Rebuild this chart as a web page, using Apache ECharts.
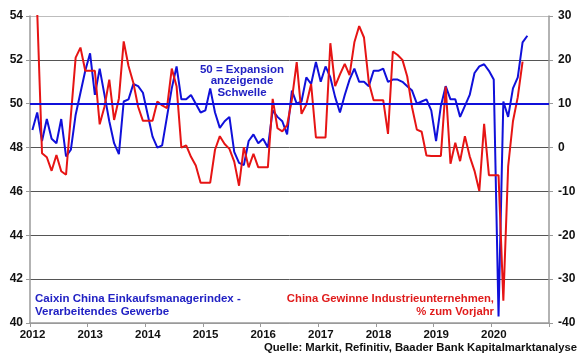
<!DOCTYPE html>
<html><head><meta charset="utf-8">
<script src="https://cdn.jsdelivr.net/npm/echarts@6/dist/echarts.min.js"></script>
<style>html,body{margin:0;padding:0;background:#fff}#c{width:580px;height:359px}</style>
</head><body><div id="c"></div>
<script>
// ---- data (monthly, starting January 2012) ----
const startYear = 2012;
const pmiCaixin = [
  48.8, 49.6, 48.3, 49.3, 48.4, 48.2, 49.3, 47.6, 47.9, 49.5, 50.5, 51.5,
  52.3, 50.4, 51.6, 50.4, 49.2, 48.2, 47.7, 50.1, 50.2, 50.9, 50.8, 50.5,
  49.5, 48.5, 48.0, 48.1, 49.4, 50.7, 51.7, 50.2, 50.2, 50.4, 50.0, 49.6,
  49.7, 50.7, 49.6, 48.9, 49.2, 49.4, 47.8, 47.3, 47.2, 48.3, 48.6, 48.2,
  48.4, 48.0, 49.7, 49.4, 49.2, 48.6, 50.6, 50.0, 50.1, 51.2, 50.9, 51.9,
  51.0, 51.7, 51.2, 50.3, 49.6, 50.4, 51.1, 51.6, 51.0, 51.0, 50.8, 51.5,
  51.5, 51.6, 51.0, 51.1, 51.1, 51.0, 50.8, 50.6, 50.0, 50.1, 50.2, 49.7,
  48.3, 49.9, 50.8, 50.2, 50.2, 49.4, 49.9, 50.4, 51.4, 51.7, 51.8, 51.5,
  51.1, 40.3, 50.1, 49.4, 50.7, 51.2, 52.8, 53.1
];
const industrialProfitsYoY = [
  31.0, 31.0, -1.3, -2.2, -5.3, -1.7, -5.4, -6.2, 7.2, 20.5, 22.8, 17.5,
  17.5, 17.5, 5.3, 9.3, 15.5, 6.3, 11.2, 24.2, 18.6, 14.8, 9.3, 6.1,
  6.1, 6.1, 10.5, 9.6, 9.0, 18.0, 14.0, 0.0, 0.5, -2.1, -4.1, -8.0,
  -8.0, -8.0, -0.5, 2.6, 0.8, -0.3, -3.2, -8.7, 0.1, -4.5, -1.4, -4.5,
  -4.5, -4.5, 11.1, 4.4, 3.7, 5.1, 11.0, 19.5, 7.7, 9.8, 14.5, 2.3,
  2.3, 2.3, 23.8, 14.0, 16.7, 19.1, 16.5, 24.0, 27.7, 25.1, 14.9, 10.8,
  10.8, 10.8, 3.1, 21.9, 21.1, 20.0, 16.2, 9.2, 4.1, 3.6, -1.8, -1.9,
  -1.9, -1.9, 13.9, -3.7, 1.1, -3.1, 2.6, -2.0, -5.3, -9.9, 5.4, -6.3,
  -6.3, -6.3, -34.9, -4.3, 6.0, 11.5, 19.6
];
const expansionThreshold = 50;
const yearLabels = ['2012','2013','2014','2015','2016','2017','2018','2019','2020'];
const leftAxisTicks = [40, 42, 44, 46, 48, 50, 52, 54];
const rightAxisTicks = [-40, -30, -20, -10, 0, 10, 20, 30];

const pmiLabel = ['Caixin China Einkaufsmanagerindex -', 'Verarbeitendes Gewerbe'];
const profitLabel = ['China Gewinne Industrieunternehmen,', '% zum Vorjahr'];
const thresholdLabel = ['50 = Expansion', 'anzeigende', 'Schwelle'];
const sourceLabel = 'Quelle: Markit, Refinitiv, Baader Bank Kapitalmarktanalyse';

// month index -> position on year scale (centre of month)
const toX = i => startYear + (i + 0.5) / 12;
const pmiData = pmiCaixin.map((v, i) => [toX(i), v]);
const profitData = industrialProfitsYoY.map((v, i) => [toX(i), v]);

const FONT = "'Liberation Sans', Arial, sans-serif";
const BLUE = '#1010da';
const RED = '#e61414';
const BLUE_TXT = '#2222c4';
const RED_TXT = '#e01c1c';

const chart = echarts.init(document.getElementById('c'), null, {renderer: 'canvas'});

function txt(text, x, y, fill, align, size) {
  return {
    type: 'text', x: x, y: y, z: 100,
    style: {text: text, x: 0, y: 0, fill: fill, align: align, verticalAlign: 'middle',
      font: 'bold ' + (size || 11.5) + 'px ' + FONT}
  };
}

const graphics = [];
graphics.push(txt(thresholdLabel[0], 242, 70, BLUE_TXT, 'center'));
graphics.push(txt(thresholdLabel[1], 242, 81.3, BLUE_TXT, 'center'));
graphics.push(txt(thresholdLabel[2], 242, 92.6, BLUE_TXT, 'center'));
graphics.push(txt(pmiLabel[0], 35, 299, BLUE_TXT, 'left'));
graphics.push(txt(pmiLabel[1], 35, 311.5, BLUE_TXT, 'left'));
graphics.push(txt(profitLabel[0], 494, 299, RED_TXT, 'right', 11.3));
graphics.push(txt(profitLabel[1], 494, 311.5, RED_TXT, 'right', 11.3));
graphics.push(txt(sourceLabel, 577, 348, '#111', 'right', 11.3));

const lmin = leftAxisTicks[0], lmax = leftAxisTicks[leftAxisTicks.length - 1];
const rmin = rightAxisTicks[0], rmax = rightAxisTicks[rightAxisTicks.length - 1];

chart.setOption({
  animation: false,
  backgroundColor: '#fff',
  grid: {left: 30, right: 31, top: 16, bottom: 36, containLabel: false},
  xAxis: {
    type: 'value', min: startYear, max: startYear + yearLabels.length, interval: 1,
    axisLine: {show: true, onZero: false, lineStyle: {color: '#9a9a9a', width: 1.5}},
    axisTick: {show: true, inside: false, length: 4, lineStyle: {color: '#9a9a9a', width: 1}},
    splitLine: {show: false},
    axisLabel: {
      margin: 6, color: '#111', fontFamily: FONT, fontWeight: 'bold', fontSize: 11.5,
      padding: [0, 0, 0, 5],
      formatter: v => { const k = Math.round(v) - startYear; return yearLabels[k] || ''; }
    }
  },
  yAxis: [
    {
      type: 'value', min: lmin, max: lmax, interval: leftAxisTicks[1] - leftAxisTicks[0],
      position: 'left',
      axisLine: {show: true, lineStyle: {color: '#9a9a9a', width: 1.5}},
      axisTick: {show: true, inside: false, length: 4, lineStyle: {color: '#9a9a9a'}},
      splitLine: {show: true, lineStyle: {color: ['#9a9a9a', '#555', '#555', '#555', '#555', '#555', '#555', '#bdbdbd'], width: 1}},
      axisLabel: {margin: 7, color: '#111', fontFamily: FONT, fontWeight: 'bold', fontSize: 12}
    },
    {
      type: 'value', min: rmin, max: rmax, interval: rightAxisTicks[1] - rightAxisTicks[0],
      position: 'right',
      axisLine: {show: true, lineStyle: {color: '#9a9a9a', width: 1.5}},
      axisTick: {show: true, inside: false, length: 4, lineStyle: {color: '#9a9a9a'}},
      splitLine: {show: false},
      axisLabel: {margin: 9, color: '#111', fontFamily: FONT, fontWeight: 'bold', fontSize: 12}
    }
  ],
  series: [
    {
      name: 'Caixin PMI', type: 'line', yAxisIndex: 0, data: pmiData,
      showSymbol: false, symbol: 'none', z: 3,
      lineStyle: {color: BLUE, width: 2}, clip: true,
      markLine: {
        silent: true, symbol: 'none', label: {show: false},
        lineStyle: {color: BLUE, width: 2, type: 'solid'},
        data: [{yAxis: expansionThreshold}]
      }
    },
    {
      name: 'Gewinne', type: 'line', yAxisIndex: 1, data: profitData,
      showSymbol: false, symbol: 'none', z: 4,
      lineStyle: {color: RED, width: 2}, clip: true
    }
  ],
  graphic: graphics
});
</script>
</body></html>
